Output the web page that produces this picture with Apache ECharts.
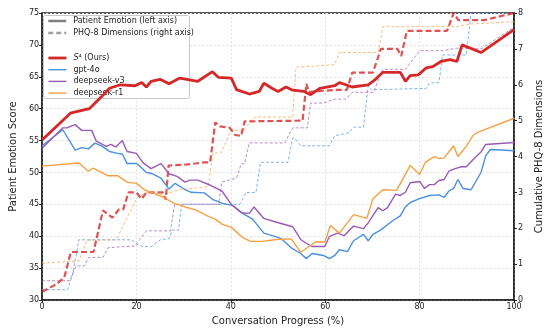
<!DOCTYPE html>
<html>
<head>
<meta charset="utf-8">
<script src="https://cdn.jsdelivr.net/npm/echarts@6/dist/echarts.min.js"></script>
<style>
html,body{margin:0;padding:0;background:#fff;}
#chart{width:552px;height:331px;}
</style>
</head>
<body>
<div id="chart"></div>
<script>
// ---- Data ----
var xTicks = [0, 20, 40, 60, 80, 100];

// Patient emotion (left axis)
var s4EmoX = [0, 6, 10, 13, 14.3, 16.6, 19.7, 21.1, 22.1, 23.1, 25, 26.9, 29.2, 33, 36.1, 37.4, 40.1, 41.2, 43.9, 46, 47, 48.7, 50, 51.7, 53.1, 55.5, 56.9, 58.9, 62, 63, 65.7, 69.1, 70.5, 72.2, 74.2, 75.9, 77, 78, 79.7, 81.4, 82.8, 84.5, 86.5, 87.9, 89, 93, 100];
var s4EmoY = [55.1, 59.3, 60, 62.2, 63.2, 63.75, 63.6, 64.1, 63.4, 64.3, 64.6, 63.9, 64.8, 64.3, 65.8, 64.9, 64.8, 63, 62.3, 62.7, 64, 63.2, 62.7, 63.4, 62.9, 62.7, 62.2, 63.2, 63.6, 64.1, 63.4, 63.75, 64.5, 65.7, 65.7, 65.7, 64.3, 65.2, 65.3, 66.4, 66.6, 67.4, 67.7, 67.4, 70, 68.8, 72.4];

var gptEmoX = [0, 4.4, 7, 8.4, 9.8, 11.2, 12.5, 14.3, 16, 17, 18, 20, 20.7, 22.1, 23.4, 25.2, 26.9, 28.2, 30.3, 31.6, 34.4, 36.1, 38.1, 40.5, 42.5, 44.6, 47, 49.7, 50.7, 52.8, 54.8, 56, 57.2, 59.6, 60.9, 62, 63, 64.7, 66, 68.1, 69.1, 70.1, 71.8, 74.2, 75.9, 77, 78, 80, 82.1, 84.1, 85.2, 86.2, 87.2, 88.1, 89.2, 90.9, 93, 94, 95, 100];
var gptEmoY = [54.2, 56.7, 53.5, 53.9, 53.7, 54.6, 54.2, 53.3, 53, 52.9, 51.4, 51.4, 51, 50, 49.8, 49.1, 47.4, 48.3, 47.3, 46.9, 46.8, 45.8, 45.2, 44.8, 43.6, 42.7, 40.5, 39.9, 39.6, 38.2, 37.3, 36.5, 37.3, 37, 36.5, 37, 37.9, 37.6, 39.3, 40.3, 39.3, 40.3, 41, 42.4, 43.2, 44.6, 45.3, 45.9, 46.4, 46.5, 46.1, 47.1, 47.5, 48.9, 47.5, 47.3, 50, 52.6, 53.6, 53.4];

var dsv3EmoX = [0, 4.4, 5.2, 7, 8.4, 10.5, 11.5, 13.6, 14.6, 15.6, 17, 18, 20, 21.4, 23.1, 25.2, 26.9, 28.6, 30.3, 31.3, 33, 35.7, 38.1, 40.1, 42.2, 43.9, 44.9, 47, 49.7, 53.1, 54.8, 56.2, 57.2, 59.9, 60.9, 62.6, 64, 66, 68.1, 69.1, 71.2, 72.2, 73.2, 74.9, 75.9, 77, 78, 80, 81, 82.1, 83.1, 84.1, 85.2, 86.2, 87.5, 88.9, 89.9, 91.3, 93, 94, 100];
var dsv3EmoY = [53.8, 57, 57, 57.5, 56.6, 56.6, 54.9, 54.1, 54.4, 54, 55, 53.3, 53, 51.5, 50.6, 51.4, 49.8, 49.4, 48.5, 48.8, 48.8, 48, 47.1, 45, 43.7, 43.6, 44.6, 42.8, 42.2, 41.5, 39.5, 38.8, 38.4, 38.4, 40, 40.5, 40.1, 41.6, 41.2, 42.1, 44.5, 44, 44.5, 46.6, 46.4, 46.9, 48.4, 48.6, 47.5, 48.1, 48.1, 48.75, 48.9, 50.2, 50.6, 50.9, 50.9, 52, 53.2, 54.4, 54.7];

var dsr1EmoX = [0, 7.8, 9.8, 10.8, 13.9, 16, 18, 20, 21.7, 23.1, 25.5, 27.9, 30.3, 32.7, 35, 36.7, 38.1, 40.1, 42.5, 44.2, 46.6, 49.7, 52.8, 54.8, 56.2, 57.9, 59.9, 61.1, 63, 66, 68.8, 70.1, 72.2, 75.1, 76.6, 78, 80, 81.2, 83.1, 84.1, 85.2, 87.2, 88.1, 89.9, 91.3, 92.3, 100];
var dsr1EmoY = [51, 51.5, 50.2, 50.7, 49.5, 49.5, 48.5, 48.3, 47.3, 46.9, 46.2, 45.2, 44.6, 44.1, 43.2, 42.7, 41.9, 41.4, 39.8, 39.2, 39.2, 39.5, 39.6, 37.5, 38.2, 39.1, 39.1, 41.7, 40.5, 43.4, 42.8, 45.9, 47.3, 47.2, 49.2, 51.1, 49.7, 51.6, 52.5, 52.2, 52.3, 54.2, 52.5, 54.1, 55.8, 56.3, 58.5];

// Cumulative PHQ-8 dimensions (right axis)
var s4PhqX = [0, 3, 4.7, 6.1, 10.9, 12.9, 14.9, 16.3, 17.2, 18.3, 20, 21.1, 22.1, 25.6, 26.2, 26.8, 30.9, 34.4, 35.6, 36.7, 37.7, 39.8, 40.9, 42.2, 42.9, 55.2, 56, 56.5, 62.3, 64.6, 65.7, 70.1, 71.8, 75.3, 76.1, 77.3, 85.8, 87.2, 88.2, 93.7, 100];
var s4PhqV = [0.23, 0.44, 0.63, 1.34, 1.34, 2.5, 2.3, 2.53, 2.53, 3.0, 3.0, 2.82, 3.0, 3.0, 2.8, 3.75, 3.78, 3.84, 3.84, 4.95, 4.84, 4.8, 4.6, 4.58, 4.98, 5.0, 6.03, 5.8, 5.86, 5.86, 6.34, 6.34, 7.0, 7.0, 6.8, 7.5, 7.5, 8.0, 7.8, 7.8, 8.0];

var gptPhqX = [0, 5.4, 6.4, 7.8, 19, 20, 21.4, 23.1, 25.2, 26.9, 27.6, 28.9, 29.6, 41.9, 43.2, 45.3, 46.3, 52.1, 53.1, 53.6, 54.8, 60.9, 62, 65, 66, 68.1, 69.1, 69.8, 81.4, 82.1, 84.1, 84.9, 89.9, 90.9, 100];
var gptPhqV = [0.29, 0.29, 0.68, 1.68, 1.68, 1.56, 1.49, 1.49, 1.69, 1.71, 1.95, 1.95, 2.67, 2.67, 3.0, 3.0, 3.84, 3.84, 4.52, 4.5, 4.3, 4.3, 4.58, 4.66, 4.82, 4.82, 5.97, 5.86, 5.9, 6.05, 6.06, 6.83, 6.83, 8.0, 8.0];

var dsv3PhqX = [0, 5.8, 7.2, 8.9, 9.9, 12.9, 14, 19.7, 22.1, 27.2, 28.1, 37.4, 38.1, 41.2, 42.2, 42.9, 43.9, 51.4, 53.1, 56.2, 56.9, 59.6, 62, 64.4, 65.7, 70.2, 72.2, 77, 80, 84.8, 87.9, 93, 100];
var dsv3PhqV = [0.54, 0.54, 0.95, 0.95, 1.19, 1.19, 1.46, 1.51, 1.93, 1.93, 2.67, 2.67, 3.29, 3.4, 3.8, 3.8, 4.38, 4.38, 4.8, 4.8, 5.49, 5.49, 5.6, 5.6, 5.79, 5.79, 6.43, 6.43, 6.95, 6.95, 7.02, 7.0, 7.6];

var dsr1PhqX = [0, 7.8, 9.5, 15.7, 20.1, 22.1, 25.9, 28.6, 30.9, 35.2, 36.2, 37.9, 40.1, 42.5, 44.6, 45.3, 53.1, 53.8, 62, 63, 71.2, 72.2, 87.9, 90.6, 100];
var dsr1PhqV = [1.03, 1.09, 1.67, 1.68, 2.85, 3.0, 2.94, 3.06, 3.1, 3.16, 4.1, 4.1, 4.75, 4.7, 5.05, 5.1, 5.1, 6.49, 6.56, 6.9, 6.9, 7.62, 7.62, 7.69, 7.76];

var modelNames = ['S4', 'gpt-4o', 'deepseek-v3', 'deepseek-r1'];
var styleNames = ['Patient Emotion (left axis)', 'PHQ-8 Dimensions (right axis)'];

// ---- helpers ----
function pairs(xs, ys) { return xs.map(function (x, i) { return [x, ys[i]]; }); }

var RED = '#d62728', BLUE = '#4a90e2', PURPLE = '#9b59b6', ORANGE = '#f7a043';
var FONT = 'DejaVu Sans';

function emo(name, xs, ys, color, width, z) {
  return { name: name, type: 'line', yAxisIndex: 0, data: pairs(xs, ys), symbol: 'none', smooth: false,
    lineStyle: { color: color, width: width }, itemStyle: { color: color }, z: z, silent: true, animation: false };
}
function phq(name, xs, ys, color, width, dash, op, z) {
  return { name: name, type: 'line', yAxisIndex: 1, data: pairs(xs, ys), symbol: 'none', smooth: false,
    lineStyle: { color: color, width: width, type: dash, opacity: op }, itemStyle: { color: color }, z: z, silent: true, animation: false };
}

var chart = echarts.init(document.getElementById('chart'), null, { renderer: 'canvas' });

var axisLbl = { fontSize: 8, color: '#222', fontFamily: FONT };
var legendText = { fontSize: 8, color: '#222', fontFamily: FONT, lineHeight: 10, padding: [0, 0, 0, 2] };
var option = {
  animation: false,
  backgroundColor: '#fff',
  textStyle: { fontFamily: FONT },
  grid: { left: 40, right: 23, top: 13, bottom: 30, show: true, borderColor: '#222', borderWidth: 1.5, backgroundColor: 'transparent' },
  graphic: [{
    type: 'rect', left: 43, top: 15, z: 1, silent: true,
    shape: { width: 146, height: 83, r: 2 },
    style: { fill: 'rgba(255,255,255,0.85)', stroke: '#c8c8c8', lineWidth: 1 }
  }],
  legend: [{
    data: styleNames, orient: 'vertical', left: 47, top: 16, padding: 0, itemGap: 2,
    itemWidth: 18, itemHeight: 10, selectedMode: false, z: 5,
    itemStyle: { opacity: 0 },
    lineStyle: { width: 'inherit', type: 'inherit' },
    textStyle: legendText
  }, {
    data: modelNames, orient: 'vertical', left: 47, top: 53, padding: 0, itemGap: 1.7,
    itemWidth: 18, itemHeight: 10, selectedMode: false, z: 5,
    itemStyle: { opacity: 0 },
    lineStyle: { width: 'inherit' },
    formatter: function (n) { return n === 'S4' ? '{it|S}⁴ (Ours)' : n; },
    textStyle: Object.assign({ rich: { it: { fontStyle: 'italic', fontSize: 8, fontFamily: FONT, color: '#222' } } }, legendText)
  }],
  xAxis: {
    type: 'value', min: 0, max: 100, interval: 20,
    name: 'Conversation Progress (%)', nameLocation: 'middle', nameGap: 15,
    nameTextStyle: { fontSize: 10, color: '#222', fontFamily: FONT },
    axisLine: { show: true, lineStyle: { color: '#222', width: 1.5 } },
    axisTick: { show: true, length: 3, lineStyle: { color: '#222' } },
    axisLabel: Object.assign({ margin: 3, formatter: function (v) { return xTicks.indexOf(v) >= 0 ? String(v) : ''; } }, axisLbl),
    splitLine: { show: true, lineStyle: { color: '#e4e4e4', type: [2, 2], width: 1 } }
  },
  yAxis: [{
    type: 'value', min: 30, max: 75, interval: 5, position: 'left',
    name: 'Patient Emotion Score', nameLocation: 'middle', nameGap: 18, nameRotate: 90,
    nameTextStyle: { fontSize: 10, color: '#222', fontFamily: FONT },
    axisLine: { show: true, lineStyle: { color: '#222', width: 1.5 } },
    axisTick: { show: true, length: 3, lineStyle: { color: '#222' } },
    axisLabel: Object.assign({ margin: 3 }, axisLbl),
    splitLine: { show: true, lineStyle: { color: '#e4e4e4', type: [2, 2], width: 1 } }
  }, {
    type: 'value', min: 0, max: 8, interval: 1, position: 'right',
    name: 'Cumulative PHQ-8 Dimensions', nameLocation: 'middle', nameGap: 18, nameRotate: 90,
    nameTextStyle: { fontSize: 10, color: '#222', fontFamily: FONT },
    axisLine: { show: true, lineStyle: { color: '#222', width: 1.5 } },
    axisTick: { show: true, length: 3, lineStyle: { color: '#222' } },
    axisLabel: Object.assign({ margin: 4 }, axisLbl),
    splitLine: { show: false }
  }],
  series: [
    { name: styleNames[0], type: 'line', data: [], symbol: 'none', lineStyle: { color: '#808080', width: 2.5 }, itemStyle: { color: '#808080' } },
    { name: styleNames[1], type: 'line', data: [], symbol: 'none', lineStyle: { color: '#a0a0a0', width: 2.5, type: [5, 3] }, itemStyle: { color: '#a0a0a0' } },
    phq('gpt-4o PHQ', gptPhqX, gptPhqV, BLUE, 1, [3, 2], 0.7, 2),
    phq('deepseek-v3 PHQ', dsv3PhqX, dsv3PhqV, PURPLE, 1, [3, 2], 0.7, 2),
    phq('deepseek-r1 PHQ', dsr1PhqX, dsr1PhqV, ORANGE, 1, [3, 2], 0.7, 2),
    phq('S4 PHQ', s4PhqX, s4PhqV, RED, 2.2, [6, 3], 0.8, 3),
    emo('gpt-4o', gptEmoX, gptEmoY, BLUE, 1.4, 4),
    emo('deepseek-v3', dsv3EmoX, dsv3EmoY, PURPLE, 1.4, 4),
    emo('deepseek-r1', dsr1EmoX, dsr1EmoY, ORANGE, 1.4, 4),
    emo('S4', s4EmoX, s4EmoY, RED, 2.8, 6)
  ]
};
chart.setOption(option);
</script>
</body>
</html>
